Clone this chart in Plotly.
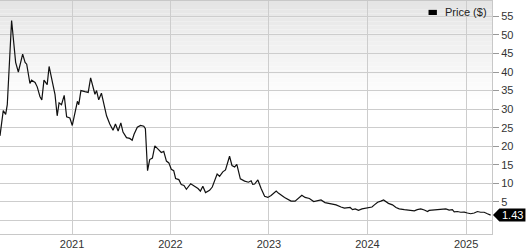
import plotly.graph_objects as go

dates = [
    "2020-04-09", "2020-04-21", "2020-04-30", "2020-05-06", "2020-05-22", "2020-05-28",
    "2020-06-06", "2020-06-16", "2020-07-02", "2020-07-11", "2020-07-17", "2020-07-29",
    "2020-08-04", "2020-08-17", "2020-08-25", "2020-09-04", "2020-09-11", "2020-09-19",
    "2020-10-01", "2020-10-08", "2020-10-20", "2020-10-30", "2020-11-07", "2020-11-14",
    "2020-11-23", "2020-12-03", "2020-12-12", "2020-12-24", "2021-01-02", "2021-01-12",
    "2021-01-21", "2021-01-26", "2021-02-03", "2021-02-18", "2021-03-02", "2021-03-11",
    "2021-03-20", "2021-03-27", "2021-04-02", "2021-04-10", "2021-04-20", "2021-04-30",
    "2021-05-09", "2021-05-21", "2021-06-02", "2021-06-11", "2021-06-21", "2021-07-01",
    "2021-07-09", "2021-07-22", "2021-08-03", "2021-08-12", "2021-08-19", "2021-08-31",
    "2021-09-12", "2021-09-24", "2021-09-30", "2021-10-08", "2021-10-16", "2021-10-26",
    "2021-11-04", "2021-11-16", "2021-11-28", "2021-12-07", "2021-12-17", "2021-12-26",
    "2022-01-04", "2022-01-13", "2022-01-20", "2022-02-01", "2022-02-10", "2022-02-20",
    "2022-03-01", "2022-03-17", "2022-03-29", "2022-04-13", "2022-04-22", "2022-05-01",
    "2022-05-11", "2022-05-26", "2022-06-05", "2022-06-17", "2022-06-23", "2022-07-02",
    "2022-07-14", "2022-07-24", "2022-08-08", "2022-08-17", "2022-08-27", "2022-09-04",
    "2022-09-17", "2022-10-03", "2022-10-17", "2022-10-27", "2022-11-02", "2022-11-09",
    "2022-11-21", "2022-12-03", "2022-12-16", "2022-12-28", "2023-01-09", "2023-01-28",
    "2023-02-06", "2023-02-28", "2023-03-12", "2023-03-24", "2023-04-08", "2023-05-03",
    "2023-05-15", "2023-05-31", "2023-06-16", "2023-07-01", "2023-07-13", "2023-07-28",
    "2023-08-13", "2023-08-25", "2023-09-07", "2023-09-25", "2023-10-08", "2023-10-29",
    "2023-11-07", "2023-11-17", "2023-11-29", "2023-12-12", "2023-12-24", "2024-01-05",
    "2024-01-18", "2024-01-27", "2024-02-08", "2024-02-20", "2024-03-01", "2024-03-19",
    "2024-04-03", "2024-04-16", "2024-04-28", "2024-05-17", "2024-06-04", "2024-06-23",
    "2024-07-04", "2024-07-17", "2024-07-30", "2024-08-11", "2024-08-17", "2024-09-11",
    "2024-09-23", "2024-10-04", "2024-10-18", "2024-10-30", "2024-11-11", "2024-11-18",
    "2024-11-30", "2024-12-12", "2024-12-25", "2025-01-06", "2025-01-18", "2025-01-31",
    "2025-02-12", "2025-02-24", "2025-03-09", "2025-03-21", "2025-04-02",
]
prices = [
    22.8, 29.6, 28.6, 31.2, 53.9, 49.6,
    42.6, 40.0, 44.8, 42.6, 42.1, 36.9,
    37.8, 37.2, 36.0, 33.4, 32.5, 37.8,
    36.6, 41.5, 37.4, 33.9, 28.2, 31.7,
    31.2, 33.7, 27.9, 27.6, 25.6, 29.5,
    32.1, 31.2, 35.0, 34.7, 34.5, 38.4,
    36.0, 34.0, 35.0, 32.5, 34.3, 30.8,
    28.2, 26.0, 24.3, 26.0, 24.1, 26.3,
    23.8, 22.3, 22.1, 21.6, 23.2, 25.1,
    25.6, 25.4, 24.7, 13.4, 16.4, 16.8,
    20.1, 19.2, 18.3, 18.6, 16.0, 15.5,
    13.8, 13.4, 11.3, 11.0, 9.7, 9.4,
    8.4, 9.9, 9.4, 8.6, 7.9, 9.2,
    7.5, 8.1, 9.0, 11.6, 12.5, 11.9,
    13.1, 13.6, 17.3, 14.8, 14.4, 15.1,
    11.2, 10.6, 10.3, 10.7, 9.7, 9.8,
    10.9, 8.6, 6.5, 6.2, 6.7, 7.9,
    7.3, 6.2, 5.7, 5.2, 5.2, 6.8,
    6.2, 5.9, 5.1, 5.3, 5.5, 4.8,
    4.5, 4.4, 4.2, 3.6, 3.3, 3.5,
    2.9, 3.1, 2.7, 3.1, 3.3, 3.3,
    3.6, 4.2, 4.9, 5.2, 5.5, 4.6,
    4.2, 3.5, 3.1, 2.9, 2.7, 2.6,
    2.9, 3.1, 2.8, 2.4, 2.7, 2.9,
    3.1, 3.0, 3.1, 2.8, 2.9, 2.3,
    2.4, 2.2, 2.25, 2.0, 1.8, 2.0,
    2.4, 2.2, 2.2, 1.8, 1.43,
]
year_ticks = ["2021-01-01", "2022-01-01", "2023-01-01", "2024-01-01", "2025-01-01"]
year_labels = ["2021", "2022", "2023", "2024", "2025"]
y_ticks = [5, 10, 15, 20, 25, 30, 35, 40, 45, 50, 55]
series_name = "Price ($)"
last_value = prices[-1]

FONT = "Liberation Sans, Arial, sans-serif"
GRID = "#cdcdcd"

fig = go.Figure()
fig.add_trace(go.Scatter(
    x=dates, y=prices, mode="lines", name=series_name,
    line=dict(color="#111111", width=1.2), showlegend=False,
))

shapes = []
# background gradient (grey at top fading to white)
n = 24
top, bottom = 1.0, 0.58
for i in range(n):
    y1 = top - (top - bottom) * i / n
    y0 = top - (top - bottom) * (i + 1) / n
    t = (i + 0.5) / n
    c = int(229 + (255 - 229) * t)
    shapes.append(dict(type="rect", xref="paper", yref="paper", x0=0, x1=1,
                       y0=y0, y1=y1, fillcolor=f"rgb({c},{c},{c})",
                       line=dict(width=0), layer="below"))

# last value badge
h = 1.75
shapes.append(dict(type="path", xref="paper", yref="y",
                   path=(f"M 1.002 {last_value} L 1.015 {last_value + h} "
                         f"L 1.068 {last_value + h} L 1.068 {last_value - h} "
                         f"L 1.015 {last_value - h} Z"),
                   fillcolor="#000000", line=dict(width=0), layer="above"))
# legend swatch
shapes.append(dict(type="rect", xref="paper", yref="paper",
                   x0=0.871, x1=0.888, y0=0.940, y1=0.962,
                   fillcolor="#000000", line=dict(width=0)))

fig.update_layout(
    width=527, height=250,
    margin=dict(l=0, r=35, t=0, b=10),
    paper_bgcolor="white", plot_bgcolor="white",
    font=dict(family=FONT, size=11, color="#333333"),
    shapes=shapes,
    annotations=[
        dict(xref="paper", yref="y", x=1.042, y=last_value, text=f"{last_value:.2f}",
             showarrow=False, font=dict(color="white", size=11, family=FONT),
             xanchor="center", yanchor="middle"),
        dict(xref="paper", yref="paper", x=0.9, y=0.951, text=series_name,
             showarrow=False, xanchor="left", yanchor="middle",
             font=dict(color="#222222", size=11, family=FONT)),
    ],
    xaxis=dict(
        type="date", range=["2020-04-09", "2025-04-07"],
        tickvals=year_ticks, ticktext=year_labels,
        showgrid=True, gridcolor=GRID, gridwidth=1,
        showline=True, linecolor="#c8c8c8", mirror=True,
        ticks="", tickfont=dict(size=11, color="#333333"),
        zeroline=False,
    ),
    yaxis=dict(
        side="right", range=[-3.66, 59.14],
        tickvals=y_ticks, ticktext=[str(v) for v in y_ticks],
        showgrid=True, gridcolor=GRID, gridwidth=1,
        zeroline=True, zerolinecolor=GRID, zerolinewidth=1,
        showline=True, linecolor="#c8c8c8",
        ticks="outside", ticklen=6, tickcolor="#999999",
        tickfont=dict(size=11, color="#333333"),
    ),
)

fig.write_html("out.html")
